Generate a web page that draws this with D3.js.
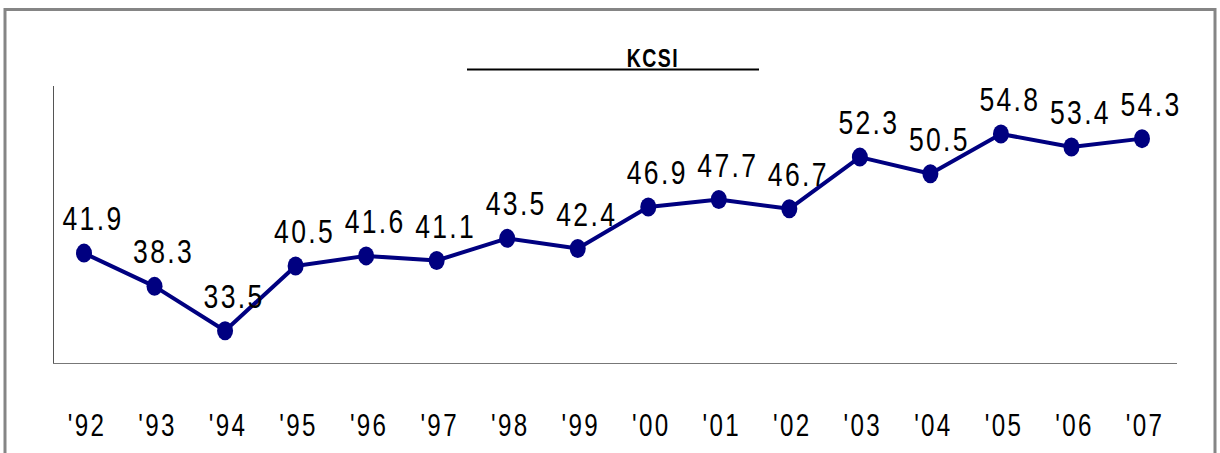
<!DOCTYPE html>
<html>
<head>
<meta charset="utf-8">
<script src="https://cdn.jsdelivr.net/npm/d3@7"></script>
<style>
  body { margin: 0; background: #fff; }
  svg text { font-family: 'Liberation Sans', Arial, sans-serif; }
</style>
</head>
<body>
<svg id="chart"></svg>
<script>
// KCSI yearly scores
const years = ['92', '93', '94', '95', '96', '97', '98', '99', '00', '01', '02', '03', '04', '05', '06', '07'];
const kcsi = [41.9, 38.3, 33.5, 40.5, 41.6, 41.1, 43.5, 42.4, 46.9, 47.7, 46.7, 52.3, 50.5, 54.8, 53.4, 54.3];
const yDomain = [30, 60];

const width = 1220;
const height = 453;
const navy = '#000080';

const svg = d3.select('#chart')
  .attr('width', width)
  .attr('height', height);

// outer frame
svg.append('rect')
  .attr('x', 5)
  .attr('y', 9.5)
  .attr('width', 1210)
  .attr('height', 460)
  .attr('fill', 'none')
  .attr('stroke', '#858585')
  .attr('stroke-width', 3);

const x = d3.scalePoint().domain(years).range([84, 1142]);
const y = d3.scaleLinear().domain(yDomain).range([363, 86]);

// axes (plain lines, no ticks)
svg.append('line')
  .attr('x1', 53.5).attr('x2', 53.5)
  .attr('y1', y(yDomain[1])).attr('y2', y(yDomain[0]))
  .attr('stroke', '#555').attr('stroke-width', 1);
svg.append('line')
  .attr('x1', 53).attr('x2', 1177)
  .attr('y1', y(yDomain[0]) + 0.5).attr('y2', y(yDomain[0]) + 0.5)
  .attr('stroke', '#777').attr('stroke-width', 1);

// title with rule underneath
svg.append('text')
  .attr('transform', 'translate(653,67) scale(0.75,1)')
  .attr('text-anchor', 'middle')
  .attr('font-size', 26)
  .attr('font-weight', 'bold')
  .attr('letter-spacing', 2)
  .text('KCSI');
svg.append('line')
  .attr('x1', 467).attr('x2', 759)
  .attr('y1', 69.5).attr('y2', 69.5)
  .attr('stroke', '#000').attr('stroke-width', 2);

// x category labels
svg.append('g')
  .selectAll('text')
  .data(years)
  .join('text')
  .attr('transform', d => `translate(${x(d) + 3},436) scale(0.78,1)`)
  .attr('text-anchor', 'middle')
  .attr('font-size', 31)
  .attr('letter-spacing', 3)
  .attr('fill', '#000')
  .text(d => `'${d}`);

const pts = years.map((yr, i) => ({ yr, v: kcsi[i] }));

const line = d3.line()
  .x(d => x(d.yr))
  .y(d => y(d.v));

svg.append('path')
  .datum(pts)
  .attr('d', line)
  .attr('fill', 'none')
  .attr('stroke', navy)
  .attr('stroke-width', 4)
  .attr('stroke-linejoin', 'round');

svg.append('g')
  .selectAll('ellipse')
  .data(pts)
  .join('ellipse')
  .attr('cx', d => x(d.yr))
  .attr('cy', d => y(d.v))
  .attr('rx', 8)
  .attr('ry', 9.5)
  .attr('fill', navy);

// value labels
svg.append('g')
  .selectAll('text')
  .data(pts)
  .join('text')
  .attr('transform', d => `translate(${x(d.yr) + 9},${y(d.v) - 23}) scale(0.78,1)`)
  .attr('text-anchor', 'middle')
  .attr('font-size', 34)
  .attr('letter-spacing', 3)
  .attr('fill', '#000')
  .text(d => d.v.toFixed(1));
</script>
</body>
</html>
